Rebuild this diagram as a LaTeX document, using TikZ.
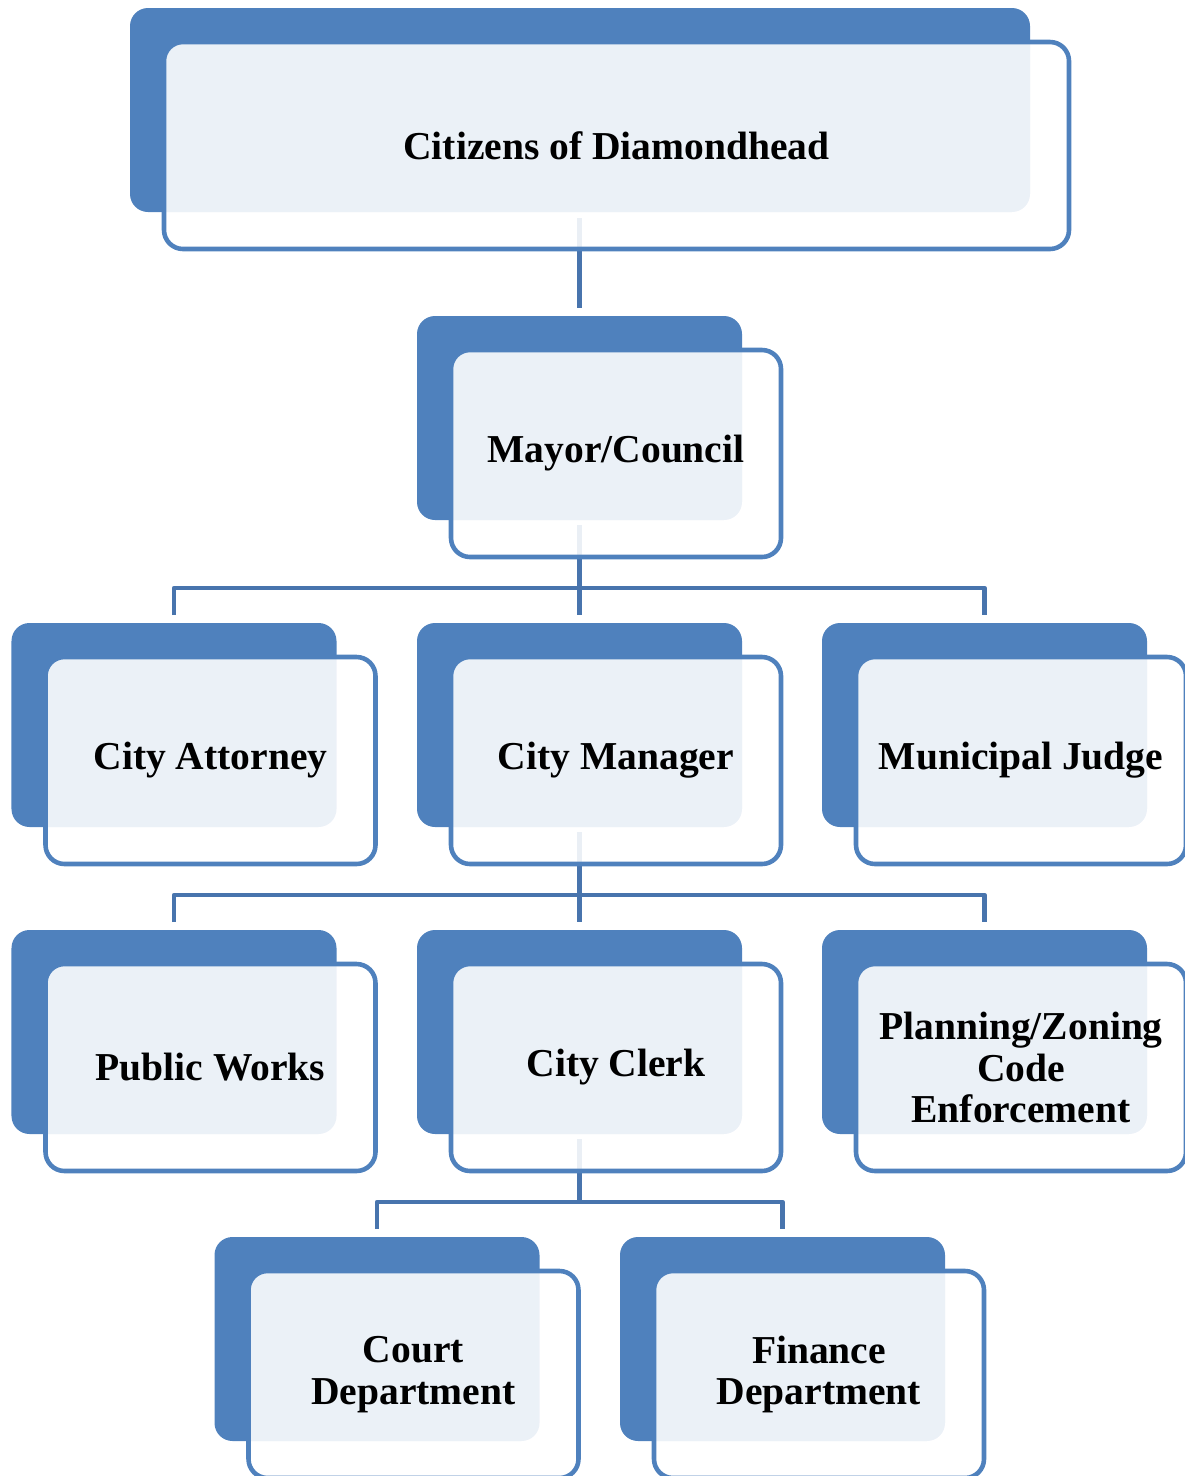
\documentclass[tikz,border=0pt]{standalone}
\usepackage{fontspec}
\setmainfont{Liberation Serif}
\usepackage{tikz}
\usetikzlibrary{positioning}

\definecolor{boxblue}{HTML}{4F81BD}
\definecolor{connblue}{HTML}{4874AD}

\begin{document}
\begin{tikzpicture}[line join=round,
    back/.style={rectangle,fill=boxblue,rounded corners=0.36cm,minimum width=6.5cm,minimum height=4.08cm,inner sep=0pt,outer sep=0pt},
    front/.style={rectangle,draw=boxblue,line width=2.6pt,fill=white,fill opacity=0.89,text opacity=1,rounded corners=0.38cm,minimum width=6.6cm,minimum height=4.14cm,inner sep=0pt,outer sep=0pt,align=center,font=\fontsize{22.5}{23.6}\selectfont\bfseries},
    conn/.style={draw=connblue,line width=2.5pt}]
        %
        \useasboundingbox (0,0) rectangle (23.7,-29.52);
        %
        \node (citizens) at (11.6,-2.2) [back,minimum width=18cm] {};
        \node (mayor) at (11.59,-8.36) [back] {};
        \node (attorney) at (3.48,-14.5) [back] {};
        \node (manager) at (11.59,-14.5) [back] {};
        \node (judge) at (19.69,-14.5) [back] {};
        \node (works) at (3.48,-20.64) [back] {};
        \node (clerk) at (11.59,-20.64) [back] {};
        \node (planning) at (19.69,-20.64) [back] {};
        \node (court) at (7.54,-26.78) [back] {};
        \node (finance) at (15.65,-26.78) [back] {};
        %
        \coordinate (bus1) at ([yshift=7mm]manager.north);
        \coordinate (bus2) at ([yshift=7mm]clerk.north);
        \coordinate (bus3) at ([yshift=7mm]court.north -| clerk.south);
        %
        \draw [conn] ([yshift=-1.2mm]citizens.south -| mayor.north) to ([yshift=1.6mm]mayor.north);
        \draw [conn] ([yshift=-1mm]mayor.south) to ([yshift=1.6mm]manager.north);
        \draw [conn] ([yshift=1.6mm]attorney.north) |- (bus1) -| ([yshift=1.6mm]judge.north);
        \draw [conn] ([yshift=-1mm]manager.south) to ([yshift=1.6mm]clerk.north);
        \draw [conn] ([yshift=1.6mm]works.north) |- (bus2) -| ([yshift=1.6mm]planning.north);
        \draw [conn] ([yshift=-1mm]clerk.south) to (bus3);
        \draw [conn] ([yshift=1.6mm]court.north) |- (bus3) -| ([yshift=1.6mm]finance.north);
        %
        \node (citizenslabel) at ([shift={(0.73,-0.71)}]citizens.center) [front,minimum width=18.1cm,minimum height=4.14cm] {Citizens of Diamondhead};
        \node (mayorlabel) at ([shift={(0.73,-0.71)}]mayor.center) [front] {Mayor/Council};
        \node (attorneylabel) at ([shift={(0.73,-0.71)}]attorney.center) [front] {City Attorney};
        \node (managerlabel) at ([shift={(0.73,-0.71)}]manager.center) [front] {City Manager};
        \node (judgelabel) at ([shift={(0.73,-0.71)}]judge.center) [front] {Municipal Judge};
        \node (workslabel) at ([shift={(0.73,-0.71)}]works.center) [front] {Public Works};
        \node (clerklabel) at ([shift={(0.73,-0.71)}]clerk.center) [front] {City Clerk};
        \node (planninglabel) at ([shift={(0.73,-0.71)}]planning.center) [front] {Planning/Zoning\\Code\\Enforcement};
        \node (courtlabel) at ([shift={(0.73,-0.71)}]court.center) [front] {Court\\Department};
        \node (financelabel) at ([shift={(0.73,-0.71)}]finance.center) [front] {Finance\\Department};
        %
    \end{tikzpicture}
\end{document}
